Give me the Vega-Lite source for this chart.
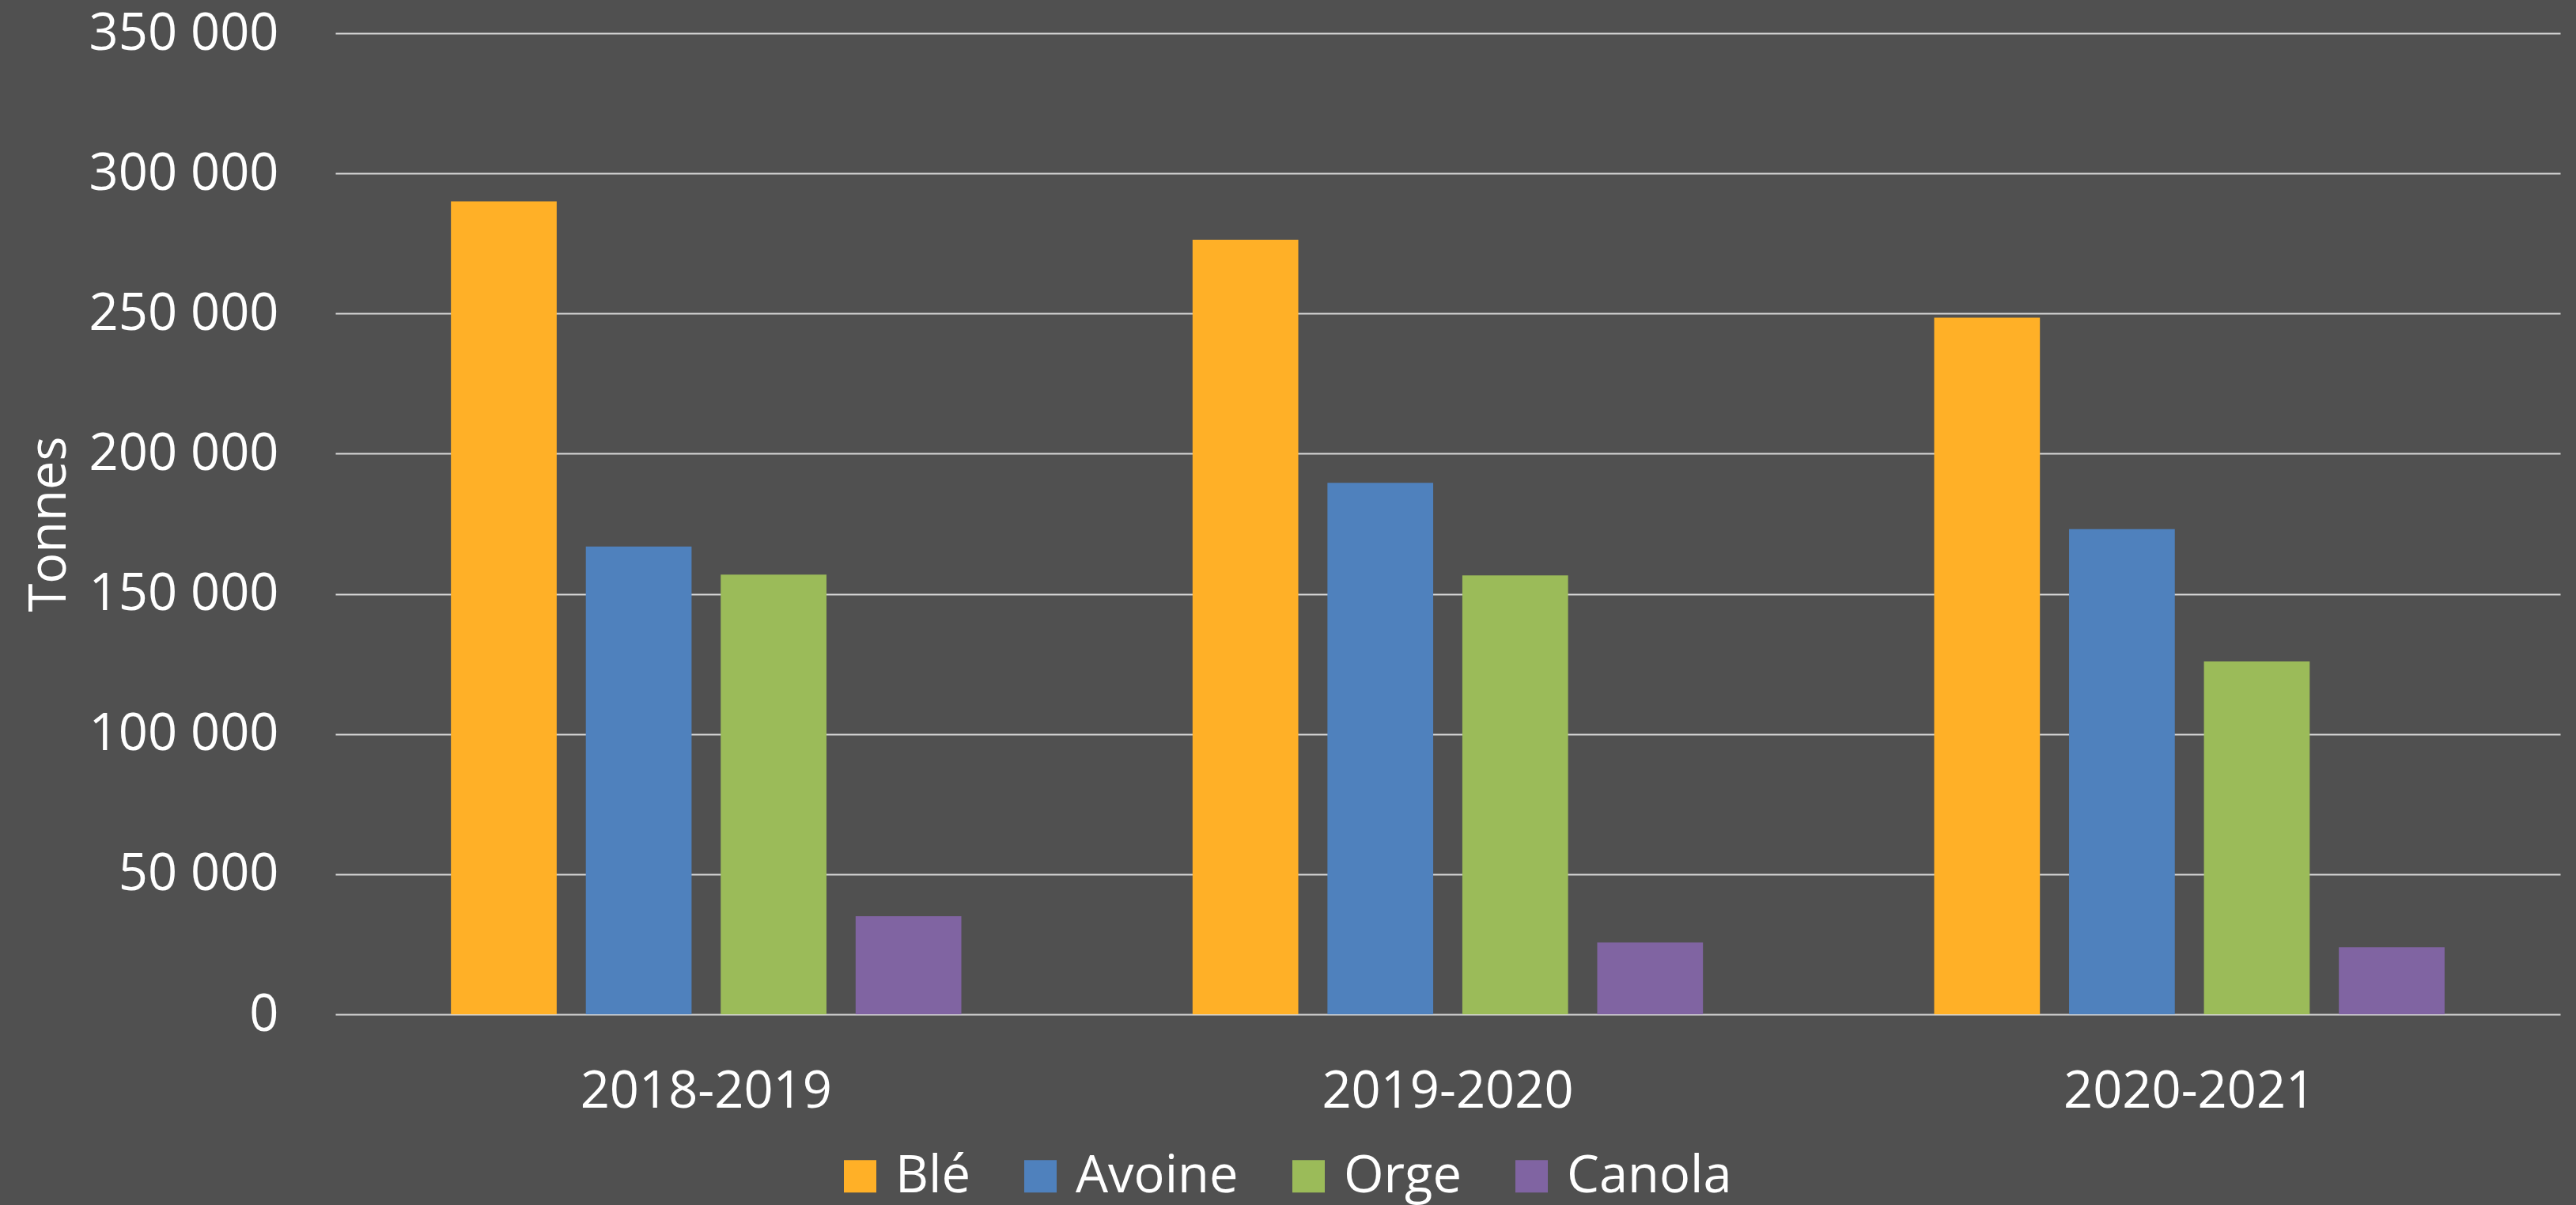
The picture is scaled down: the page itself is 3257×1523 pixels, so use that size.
{
  "$schema": "https://vega.github.io/schema/vega-lite/v6.json",
  "width": 2813,
  "height": 1240,
  "autosize": {"type": "none"},
  "padding": {"left": 424, "top": 42, "right": 20, "bottom": 241},
  "background": "#505050",
  "config": {
    "view": {"stroke": null},
    "font": "Open Sans",
    "locale": {"number": {"decimal": ",", "thousands": " ", "grouping": [3], "currency": ["", " $"]}}
  },
  "data": {
    "values": [
      {"annee": "2018-2019", "culture": "Blé", "tonnes": 290000},
      {"annee": "2018-2019", "culture": "Avoine", "tonnes": 166900},
      {"annee": "2018-2019", "culture": "Orge", "tonnes": 156900},
      {"annee": "2018-2019", "culture": "Canola", "tonnes": 35000},
      {"annee": "2019-2020", "culture": "Blé", "tonnes": 276300},
      {"annee": "2019-2020", "culture": "Avoine", "tonnes": 189600},
      {"annee": "2019-2020", "culture": "Orge", "tonnes": 156600},
      {"annee": "2019-2020", "culture": "Canola", "tonnes": 25600},
      {"annee": "2020-2021", "culture": "Blé", "tonnes": 248500},
      {"annee": "2020-2021", "culture": "Avoine", "tonnes": 173100},
      {"annee": "2020-2021", "culture": "Orge", "tonnes": 125900},
      {"annee": "2020-2021", "culture": "Canola", "tonnes": 23900}
    ]
  },
  "mark": {"type": "bar"},
  "encoding": {
    "x": {
      "field": "annee",
      "type": "nominal",
      "scale": {"paddingInner": 0, "paddingOuter": 0},
      "axis": {
        "title": null,
        "labelAngle": 0,
        "labelColor": "#ffffff",
        "labelFontSize": 65,
        "labelPadding": 66,
        "labelBaseline": "top",
        "labelLimit": 0,
        "ticks": false,
        "domain": false,
        "grid": false
      }
    },
    "xOffset": {
      "field": "culture",
      "type": "nominal",
      "sort": ["Blé", "Avoine", "Orge", "Canola"],
      "scale": {"paddingInner": 0.216, "paddingOuter": 0.857}
    },
    "y": {
      "field": "tonnes",
      "type": "quantitative",
      "scale": {"domain": [0, 350000], "nice": false},
      "axis": {
        "title": "Tonnes",
        "titleColor": "#ffffff",
        "titleFontSize": 65,
        "titleFontWeight": "normal",
        "titleBaseline": "alphabetic",
        "titleX": -342,
        "titleY": 620,
        "titleAngle": 270,
        "values": [0, 50000, 100000, 150000, 200000, 250000, 300000, 350000],
        "format": ",d",
        "labelColor": "#ffffff",
        "labelFontSize": 65,
        "labelPadding": 72,
        "labelLimit": 0,
        "labelOverlap": false,
        "ticks": false,
        "domain": false,
        "grid": true,
        "gridColor": "#d9d9d9",
        "gridWidth": 2,
        "gridOpacity": 1
      }
    },
    "color": {
      "field": "culture",
      "type": "nominal",
      "sort": ["Blé", "Avoine", "Orge", "Canola"],
      "scale": {
        "domain": ["Blé", "Avoine", "Orge", "Canola"],
        "range": ["#FFB027", "#4F81BD", "#9BBB59", "#8064A2"]
      },
      "legend": {
        "title": null,
        "orient": "none",
        "direction": "horizontal",
        "legendX": 631,
        "legendY": 1412,
        "symbolType": "square",
        "symbolSize": 1681,
        "symbolStrokeWidth": 0,
        "symbolOpacity": 1,
        "labelColor": "#ffffff",
        "labelFontSize": 65,
        "labelOffset": 12,
        "columnPadding": 56,
        "labelLimit": 0
      }
    }
  }
}
